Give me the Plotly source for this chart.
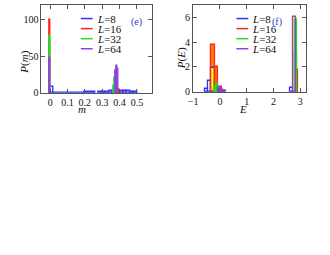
import plotly.graph_objects as go

# ---------------- data ----------------
series_names = ["L=8", "L=16", "L=32", "L=64"]
series_colors = ["#3030ff", "#ff2020", "#20e020", "#9040e0"]

# panel (e): P(m)
e_blue_x = [0.005, 0.05, 0.11, 0.17, 0.23, 0.29, 0.31, 0.33, 0.35, 0.37, 0.39, 0.41, 0.43, 0.45, 0.47, 0.49]
e_blue_y = [8, 0.5, 0.4, 0.5, 0.6, 0.8, 1.0, 1.5, 2.0, 3.0, 3.5, 3.2, 2.8, 2.2, 1.2, 0.6]
e_blue_w = [0.023, 0.06, 0.06, 0.06, 0.06, 0.02, 0.02, 0.02, 0.02, 0.02, 0.02, 0.02, 0.02, 0.02, 0.02, 0.02]
e_red_x = [0.0, 0.375, 0.385, 0.395, 0.405]
e_red_y = [100, 3, 5, 4, 1.5]
e_green_x = [0.0, 0.365, 0.372, 0.379]
e_green_y = [78, 10, 20, 30]
e_purple_x = [0.0, 0.377, 0.383, 0.389]
e_purple_y = [47, 30, 37, 33]
e_yellow_x = [0.3885]
e_yellow_y = [34]

# panel (f): P(E)
f_blue_x = [-0.505, -0.375, -0.255, -0.125, 0.005, 0.135, 2.68, 2.85]
f_blue_y = [0.2, 0.9, 1.95, 0.6, 0.3, 0.05, 0.3, 3.2]
f_blue_w = [0.13, 0.13, 0.13, 0.13, 0.13, 0.13, 0.08, 0.07]
f_red_x = [-0.255, -0.125, 0.005, 0.135, 2.87]
f_red_y = [3.8, 2.0, 0.4, 0.1, 1.8]
f_red_w = [0.13, 0.13, 0.13, 0.13, 0.07]
f_green_x = [-0.19, -0.12, -0.05, 2.86]
f_green_y = [0.3, 0.65, 0.3, 5.8]
f_green_w = [0.07, 0.07, 0.07, 0.08]
f_purple_x = [-0.05, 0.02, 0.09, 0.2, 2.78]
f_purple_y = [0.2, 0.35, 0.15, 0.05, 6.05]
f_purple_w = [0.07, 0.07, 0.07, 0.1, 0.1]
f_orange_x = [-0.255, -0.125]
f_orange_y = [3.8, 2.0]
f_yellow_x = [-0.255, 2.8]
f_yellow_y = [1.9, 6.0]
f_yellow_w = [0.13, 0.14]

e_xticks = [0, 0.1, 0.2, 0.3, 0.4, 0.5]
e_yticks = [0, 50, 100]
f_xticks = [-1, 0, 1, 2, 3]
f_yticks = [0, 2, 4, 6]

# ---------------- figure ----------------
fig = go.Figure()
W, H = 330, 255
FONT = "Liberation Serif"

def fill_bar(x, y, w, color, xa, ya):
    fig.add_trace(go.Bar(x=x, y=y, width=w, marker=dict(color=color, line=dict(width=0)),
                         xaxis=xa, yaxis=ya, showlegend=False))

def line_bar(x, y, w, color, xa, ya):
    fig.add_trace(go.Bar(x=x, y=y, width=w,
                         marker=dict(color="rgba(0,0,0,0)", line=dict(color=color, width=1.3)),
                         xaxis=xa, yaxis=ya, showlegend=False))

# panel e
fill_bar(e_yellow_x, e_yellow_y, 0.015, "#ffff00", "x", "y")
line_bar(e_blue_x, e_blue_y, e_blue_w, series_colors[0], "x", "y")
line_bar(e_red_x, e_red_y, [0.004, 0.01, 0.01, 0.01, 0.01], series_colors[1], "x", "y")
line_bar(e_green_x, e_green_y, [0.004, 0.006, 0.006, 0.006], series_colors[2], "x", "y")
line_bar(e_purple_x, e_purple_y, [0.004, 0.006, 0.006, 0.006], series_colors[3], "x", "y")

# panel f
fill_bar(f_orange_x, f_orange_y, 0.13, "#ff8000", "x2", "y2")
fill_bar(f_yellow_x, f_yellow_y, f_yellow_w, "#ffff00", "x2", "y2")
line_bar(f_blue_x, f_blue_y, f_blue_w, series_colors[0], "x2", "y2")
line_bar(f_red_x, f_red_y, f_red_w, series_colors[1], "x2", "y2")
fill_bar(f_green_x[:3], f_green_y[:3], f_green_w[:3], "#20c020", "x2", "y2")
line_bar(f_green_x, f_green_y, f_green_w, series_colors[2], "x2", "y2")
line_bar(f_purple_x, f_purple_y, f_purple_w, series_colors[3], "x2", "y2")

axis_common = dict(showline=True, linecolor="#555", linewidth=1, mirror="allticks",
                   ticks="inside", ticklen=4, tickcolor="#555", showgrid=False, zeroline=False,
                   tickfont=dict(family=FONT, size=10, color="#111"))

fig.update_layout(
    width=W, height=H, margin=dict(l=0, r=0, t=0, b=0),
    paper_bgcolor="white", plot_bgcolor="white",
    barmode="overlay", bargap=0, showlegend=False,
    xaxis=dict(domain=[37 / W, 149 / W], range=[-0.05, 0.585], tickvals=e_xticks,
               ticktext=[str(v) for v in e_xticks], anchor="y", **axis_common),
    yaxis=dict(domain=[1 - 95 / H, 1 - 5 / H], range=[0, 120], tickvals=e_yticks, anchor="x", **axis_common),
    xaxis2=dict(domain=[191 / W, 306 / W], range=[-1, 3.23], tickvals=f_xticks, anchor="y2", **axis_common),
    yaxis2=dict(domain=[1 - 94 / H, 1 - 5 / H], range=[0, 7], tickvals=f_yticks, anchor="x2", **axis_common),
)

ann = []
shapes = []
# legends (drawn as line samples + text)
for panel_x0 in (77, 235):
    for i, (nm, col) in enumerate(zip(series_names, series_colors)):
        yy = 19 + 10.3 * i
        shapes.append(dict(type="line", xref="paper", yref="paper",
                           x0=panel_x0 / W, x1=(panel_x0 + 12) / W,
                           y0=1 - yy / H, y1=1 - yy / H, line=dict(color=col, width=1.5)))
        ann.append(dict(xref="paper", yref="paper", x=(panel_x0 + 14) / W, y=1 - yy / H,
                        xanchor="left", yanchor="middle", showarrow=False,
                        text="<i>L</i>=" + nm.split("=")[1],
                        font=dict(family=FONT, size=11, color="#111")))
# panel labels
ann.append(dict(xref="paper", yref="paper", x=134 / W, y=1 - 14 / H, showarrow=False,
                text="(e)", font=dict(family=FONT, size=10, color="#3333cc")))
ann.append(dict(xref="paper", yref="paper", x=283 / W, y=1 - 14 / H, showarrow=False,
                text="(f)", font=dict(family=FONT, size=10, color="#3333cc")))
# axis titles
ann.append(dict(xref="paper", yref="paper", x=11 / W, y=1 - 50 / H, showarrow=False, textangle=-90,
                text="<i>P</i>(<i>m</i>)", font=dict(family=FONT, size=11, color="#111")))
ann.append(dict(xref="paper", yref="paper", x=180 / W, y=1 - 46 / H, showarrow=False, textangle=-90,
                text="<i>P</i>(<i>E</i>)", font=dict(family=FONT, size=11, color="#111")))
ann.append(dict(xref="paper", yref="paper", x=72 / W, y=1 - 112 / H, showarrow=False,
                text="<i>m</i>", font=dict(family=FONT, size=11, color="#111")))
ann.append(dict(xref="paper", yref="paper", x=248 / W, y=1 - 112 / H, showarrow=False,
                text="<i>E</i>", font=dict(family=FONT, size=11, color="#111")))

fig.update_layout(annotations=ann, shapes=shapes)
fig.write_html("out.html", config={"displayModeBar": False},
               post_script="document.body.style.margin='0';document.body.style.padding='0';")
